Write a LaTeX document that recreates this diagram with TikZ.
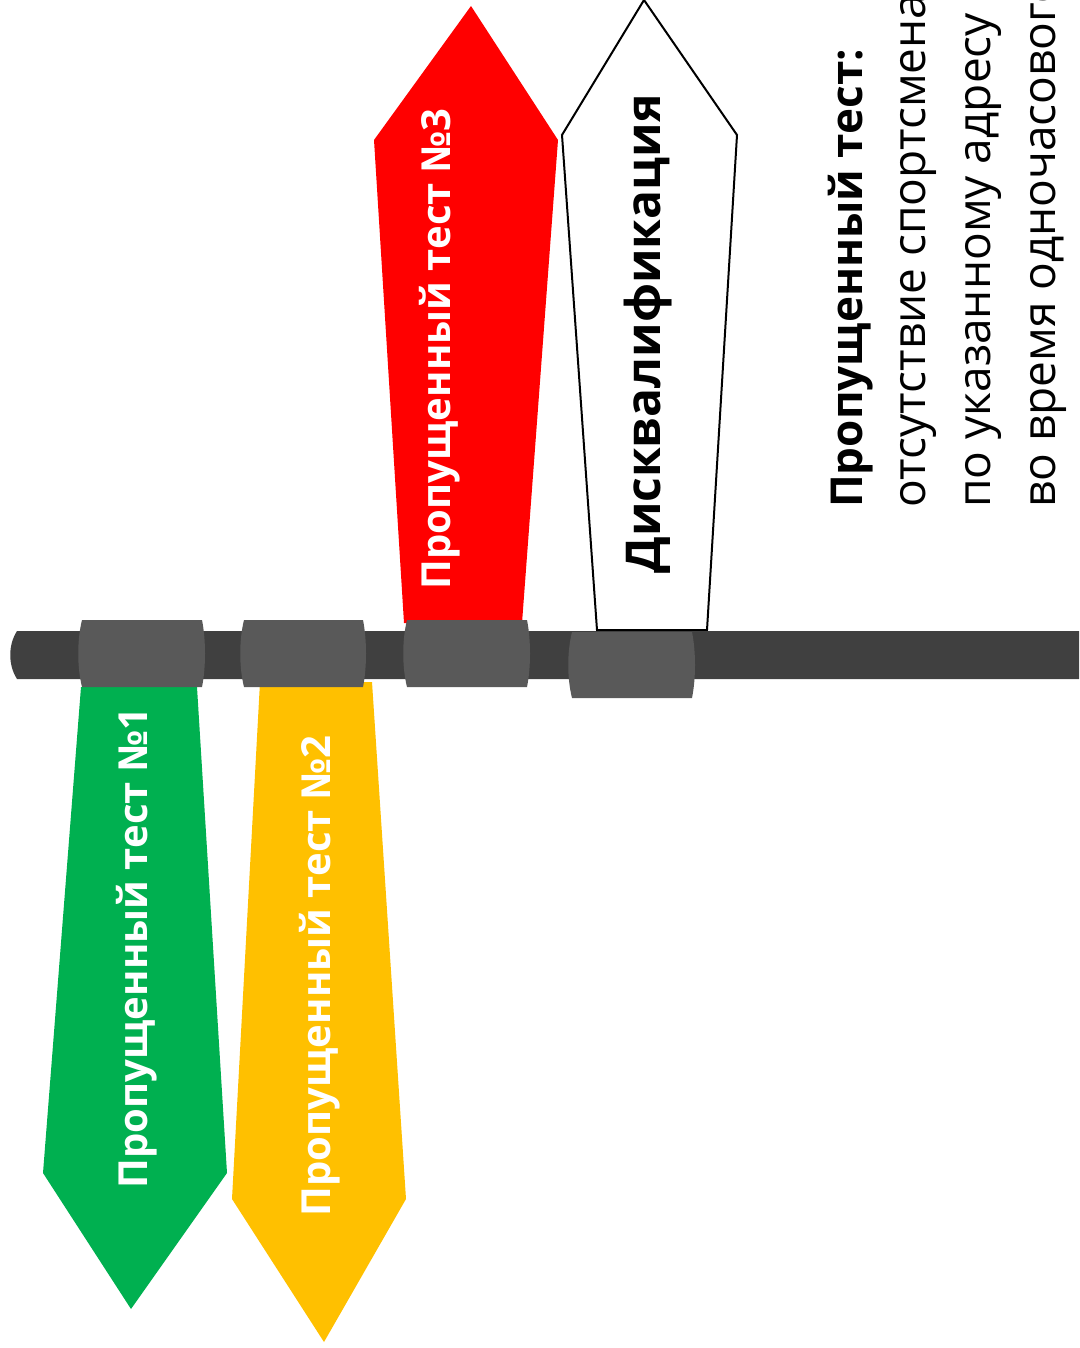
\documentclass[tikz,border=0pt]{standalone}
\usepackage{fontspec}
\setmainfont{Open Sans}
\definecolor{barc}{HTML}{404040}
\definecolor{clipc}{HTML}{595959}
\definecolor{gflag}{HTML}{00B050}
\definecolor{yflag}{HTML}{FFC000}
\definecolor{rflag}{HTML}{FF0000}
\newcommand\barrelclip[5]{% name, x1, x2, ytop, ybottom
  \fill[clipc] (#2+4,#4) -- (#3-3,#4) .. controls (#3+1,#4+20) and (#3+1,#5-20) .. (#3-3,#5)
    -- (#2+4,#5) .. controls (#2-1,#5-20) and (#2-1,#4+20) .. (#2+4,#4) -- cycle;
  \coordinate (#1) at ({(#2+#3)/2},{(#4+#5)/2});}
\begin{document}
\begin{tikzpicture}[x=1pt,y=-1pt,
  flagtext/.style={rotate=90,font=\bfseries\fontsize{40}{48}\selectfont,text=white,inner sep=0pt},
  desctext/.style={rotate=90,anchor=base west,inner sep=0pt,font=\fontsize{46}{55}\selectfont}]
\useasboundingbox (0,0) rectangle (1079,1348);
\clip (0,0) rectangle (1079,1348);
% flags
\fill[gflag] (81,687) -- (197,687) -- (227,1173) -- (131,1309) -- (43,1173) -- cycle;
\fill[yflag] (260,682) -- (372,682) -- (406,1199) -- (324,1342) -- (232,1199) -- cycle;
\fill[rflag] (404,623) -- (522,623) -- (558,140) -- (471,6) -- (374,140) -- cycle;
\draw[line width=2pt,fill=white,line join=miter] (597,630) -- (707,630) -- (737,135) -- (644,0) -- (562,135) -- cycle;
% bar
\fill[barc] (17,631) -- (1085,631) -- (1085,679) -- (17,679) .. controls (8,665) and (8,645) .. (17,631) -- cycle;
\coordinate (barleft) at (10,655);
% clips
\barrelclip{c1}{78}{205}{620}{687}
\barrelclip{c2}{240}{366}{620}{687}
\barrelclip{c3}{403}{530}{620}{687}
\barrelclip{c4}{568}{695}{632}{698}
% flag texts
\node[flagtext] (t1) at (137,948) {Пропущенный тест №1};
\node[flagtext] (t2) at (320,976) {Пропущенный тест №2};
\node[flagtext] (t3) at (440,349) {Пропущенный тест №3};
\node[flagtext,text=black,font=\bfseries\fontsize{48}{56}\selectfont] (t4) at (648,334) {Дисквалификация};
% description
\node[desctext,font=\bfseries\fontsize{44}{53}\selectfont] (d1) at (862,508) {Пропущенный тест:};
\node[desctext] (d2) at (925,508) {отсутствие спортсмена};
\node[desctext] (d3) at (990,508) {по указанному адресу};
\node[desctext] (d4) at (1055,508) {во время одночасового};
\end{tikzpicture}
\end{document}
